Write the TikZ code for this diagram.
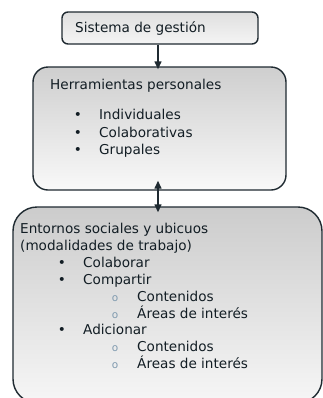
\documentclass[tikz,border=0pt]{standalone}
\usepackage{fontspec}
\setmainfont{DejaVu Sans}
\usetikzlibrary{arrows.meta}

\definecolor{inkc}{HTML}{121D24}
\definecolor{edgec}{HTML}{1F2A31}
\definecolor{subc}{HTML}{7F9AAF}

\tikzset{
  box/.style={draw=edgec, line width=1.4bp, rounded corners=#1, inner sep=0pt},
  txt/.style={anchor=base west, inner sep=0pt, text=inkc,
    font=\fontsize{13.6bp}{17bp}\selectfont},
  link/.style={line width=1.4bp, edgec},
}

% bullet item: name, x of bullet, baseline, text
\newcommand\bitem[4]{
	\node[txt, anchor=base] (#1b) at (#2,#3) {\textbullet};
	\node[txt] (#1) at (#2+21,#3) {#4};
}
% sub item with a small o
\newcommand\sitem[4]{
	\node[txt, anchor=base, text=subc, font=\fontsize{10.5bp}{10bp}\selectfont] (#1b) at (#2,#3) {o};
	\node[txt] (#1) at (#2+22,#3) {#4};
}

\begin{document}
\begin{tikzpicture}[x=1bp, y=-1bp, >={Triangle[length=8bp,width=7bp]}]
	\useasboundingbox (0,0) rectangle (323,398);

    % Boxes
	\node[box=6bp, minimum width=196bp, minimum height=32bp,
	      top color=gray!25, bottom color=gray!8] (sis) at (160,28) {};
	\node[box=15bp, minimum width=253bp, minimum height=123bp,
	      top color=gray!38, bottom color=gray!5] (her) at (159.5,128.5) {};
	\node[box=24bp, minimum width=309bp, minimum height=196bp,
	      top color=gray!40, bottom color=gray!7] (ent) at (167.5,305) {};

    % Connectors
	\draw[->, link, shorten >=-3bp] ([xshift=-2bp]sis.south) -- ([xshift=-2bp]sis.south |- her.north);
	\draw[<->, link, shorten <=-10bp, shorten >=-6bp] ([xshift=-1.5bp]her.south) -- ([xshift=-1.5bp]her.south |- ent.north);

    % Texts
	\node[txt] (sist) at (75,32) {Sistema de gestión};

	\node[txt] (herr) at (50,89) {Herramientas personales};
	\bitem{ind}{78}{119.5}{Individuales}
	\bitem{col}{78}{137}{Colaborativas}
	\bitem{gru}{78}{154}{Grupales}

	\node[txt] (ento) at (20,233) {Entornos sociales y ubicuos};
	\node[txt] (moda) at (20,250) {(modalidades de trabajo)};
	\bitem{cola}{62}{267}{Colaborar}
	\bitem{comp}{62}{284}{Compartir}
	\sitem{cona}{115}{301}{Contenidos}
	\sitem{area}{115}{318}{Áreas de interés}
	\bitem{adic}{62}{334}{Adicionar}
	\sitem{conb}{115}{351}{Contenidos}
	\sitem{areb}{115}{368}{Áreas de interés}
\end{tikzpicture}
\end{document}
